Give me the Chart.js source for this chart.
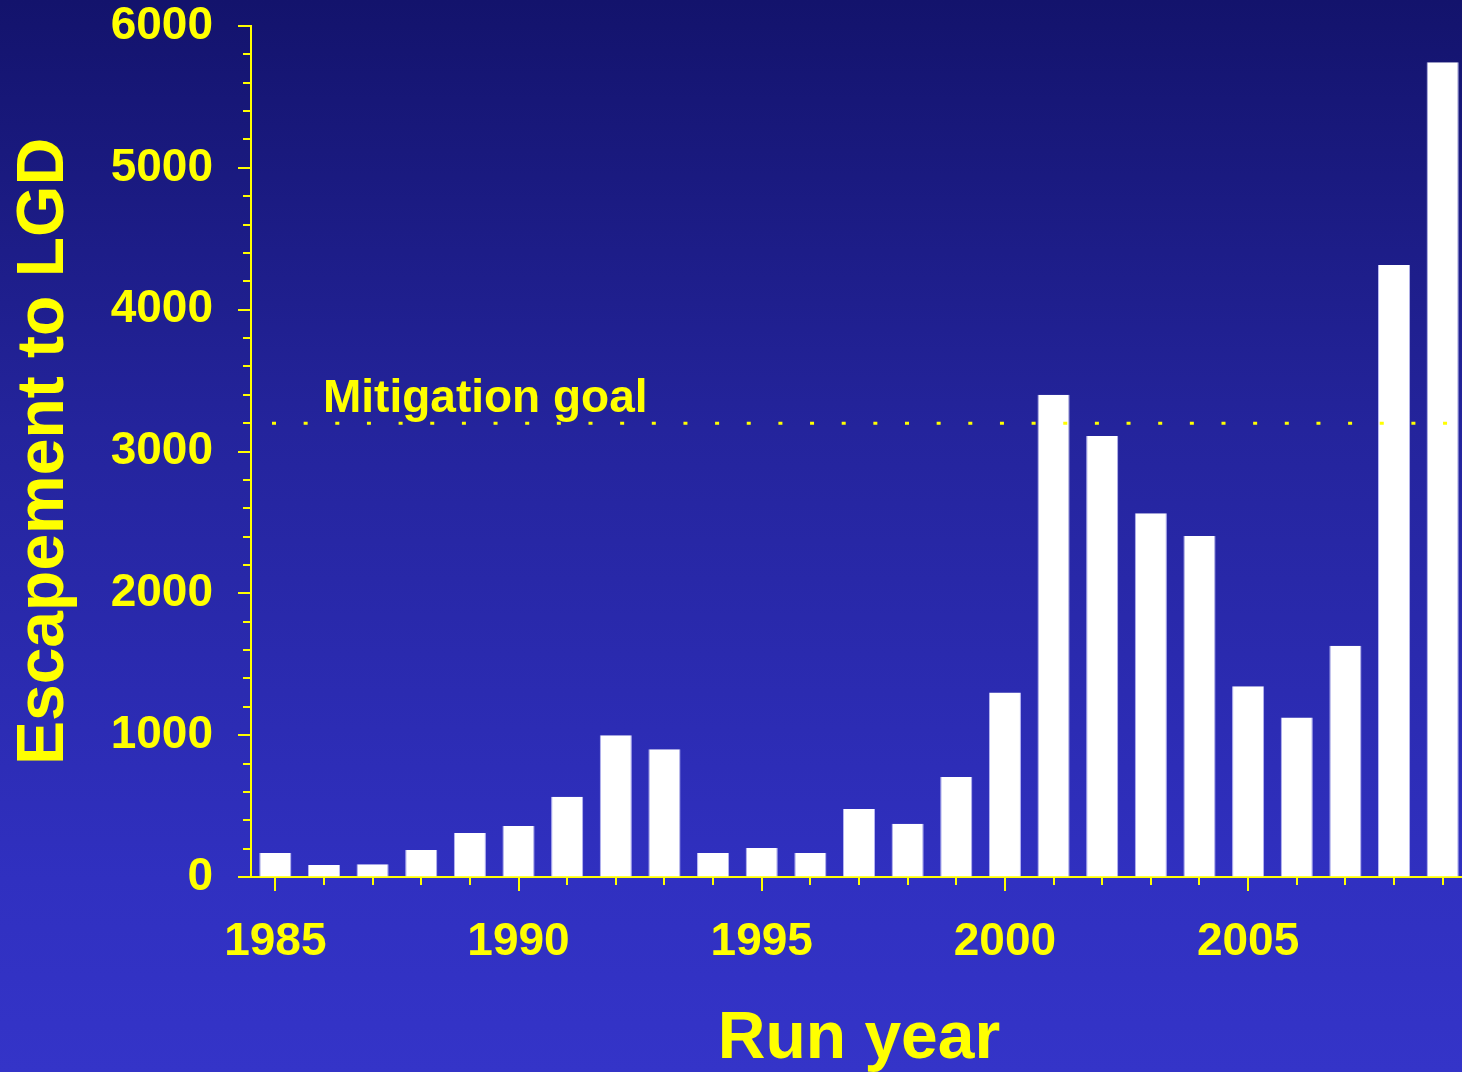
<!DOCTYPE html>
<html>
<head>
<meta charset="utf-8">
<title>Escapement to LGD</title>
<script src="https://cdn.jsdelivr.net/npm/chart.js@4/dist/chart.umd.min.js"></script>
<style>
  html, body {
    margin: 0;
    padding: 0;
    overflow: hidden;
    width: 1462px;
    height: 1072px;
  }
  body {
    background: linear-gradient(to bottom, #13136c 0%, #24249c 40%, #3030c0 82%, #3434c8 100%);
  }
  #chart {
    position: absolute;
    left: 0;
    top: 0;
  }
</style>
</head>
<body>
<canvas id="chart" width="1468" height="1072"></canvas>
<script>
// run years and fish counted past Lower Granite Dam
var years = [1985, 1986, 1987, 1988, 1989, 1990, 1991, 1992, 1993, 1994, 1995, 1996, 1997,
             1998, 1999, 2000, 2001, 2002, 2003, 2004, 2005, 2006, 2007, 2008, 2009];
var escapement = [170, 85, 90, 190, 310, 360, 565, 1000, 900, 170, 205, 170, 480,
                  375, 705, 1300, 3400, 3110, 2565, 2405, 1345, 1125, 1630, 4315, 5745];
var mitigationGoal = 3200;
var yTicks = [0, 1000, 2000, 3000, 4000, 5000, 6000];

var YELLOW = '#ffff00';
var FONT = '"Liberation Sans", Arial, sans-serif';

// tick marks: long ones on labelled values, short ones in between
var tickMarks = {
    id: 'tickMarks',
    afterDraw(chart) {
        var ctx = chart.ctx;
        var x = chart.scales.x, y = chart.scales.y;
        var area = chart.chartArea;
        ctx.save();
        ctx.strokeStyle = YELLOW;
        ctx.lineWidth = 2;
        ctx.beginPath();
        y.ticks.forEach(function (t) {
            var py = Math.round(y.getPixelForValue(t.value));
            var len = yTicks.indexOf(t.value) >= 0 ? 13 : 8;
            ctx.moveTo(area.left - len, py);
            ctx.lineTo(area.left, py);
        });
        years.forEach(function (yr, i) {
            var px = Math.round(x.getPixelForValue(i));
            var len = yr % 5 === 0 ? 14 : 8;
            ctx.moveTo(px, area.bottom);
            ctx.lineTo(px, area.bottom + len);
        });
        ctx.stroke();
        ctx.restore();
    }
};

// dotted goal line with its caption
var goalLine = {
    id: 'goalLine',
    afterDatasetsDraw(chart) {
        var ctx = chart.ctx;
        var area = chart.chartArea;
        var py = chart.scales.y.getPixelForValue(mitigationGoal);
        ctx.save();
        ctx.strokeStyle = YELLOW;
        ctx.lineWidth = 3;
        ctx.setLineDash([4, 27.65]);
        ctx.beginPath();
        ctx.moveTo(area.left + 21, py);
        ctx.lineTo(chart.width, py);
        ctx.stroke();
        ctx.setLineDash([]);
        ctx.fillStyle = YELLOW;
        ctx.font = 'bold 46px ' + FONT;
        ctx.textBaseline = 'alphabetic';
        ctx.textAlign = 'left';
        ctx.fillText('Mitigation goal', area.left + 72, py - 11);
        ctx.restore();
    }
};

var ctx = document.getElementById('chart').getContext('2d');
var escapementChart = new Chart(ctx, {
    type: 'bar',
    data: {
        labels: years.map(String),
        datasets: [{
            label: 'Escapement to LGD',
            data: escapement,
            backgroundColor: '#ffffff',
            borderColor: 'rgba(200, 200, 250, 0.9)',
            borderWidth: { left: 1, right: 1, top: 0, bottom: 0 },
            borderSkipped: false,
            barPercentage: 0.66,
            categoryPercentage: 1
        }]
    },
    options: {
        responsive: false,
        animation: false,
        devicePixelRatio: 1,
        layout: { padding: { top: 26, right: 1, left: 0, bottom: 0 } },
        plugins: {
            legend: { display: false },
            tooltip: { enabled: false }
        },
        scales: {
            x: {
                offset: true,
                // invisible grid ticks only hold the labels away from the axis
                grid: { display: true, drawOnChartArea: false, color: 'transparent', tickLength: 42 },
                border: { display: true, color: YELLOW, width: 2 },
                ticks: {
                    color: YELLOW,
                    font: { family: FONT, size: 46, weight: 'bold', lineHeight: 1 },
                    padding: 0,
                    autoSkip: false,
                    maxRotation: 0,
                    callback: function (v, i) {
                        return years[i] % 5 === 0 ? String(years[i]) : '';
                    }
                },
                title: {
                    display: true,
                    text: 'Run year',
                    color: YELLOW,
                    font: { family: FONT, size: 66, weight: 'bold', lineHeight: 0.97 },
                    padding: 0
                },
                afterFit: function (scale) { scale.height = 195; }
            },
            y: {
                min: 0,
                max: 6000,
                grid: { display: true, drawOnChartArea: false, color: 'transparent', tickLength: 38 },
                border: { display: true, color: YELLOW, width: 2 },
                ticks: {
                    stepSize: 200,
                    autoSkip: false,
                    color: YELLOW,
                    font: { family: FONT, size: 46, weight: 'bold', lineHeight: 1 },
                    padding: 0,
                    callback: function (v) {
                        return yTicks.indexOf(v) >= 0 ? String(v) : '';
                    }
                },
                title: {
                    display: true,
                    text: 'Escapement to LGD',
                    color: YELLOW,
                    font: { family: FONT, size: 66, weight: 'bold', lineHeight: 1.1 },
                    padding: { top: 8, bottom: 0 }
                },
                afterFit: function (scale) { scale.width = 251; }
            }
        }
    },
    plugins: [goalLine, tickMarks]
});
</script>
</body>
</html>
